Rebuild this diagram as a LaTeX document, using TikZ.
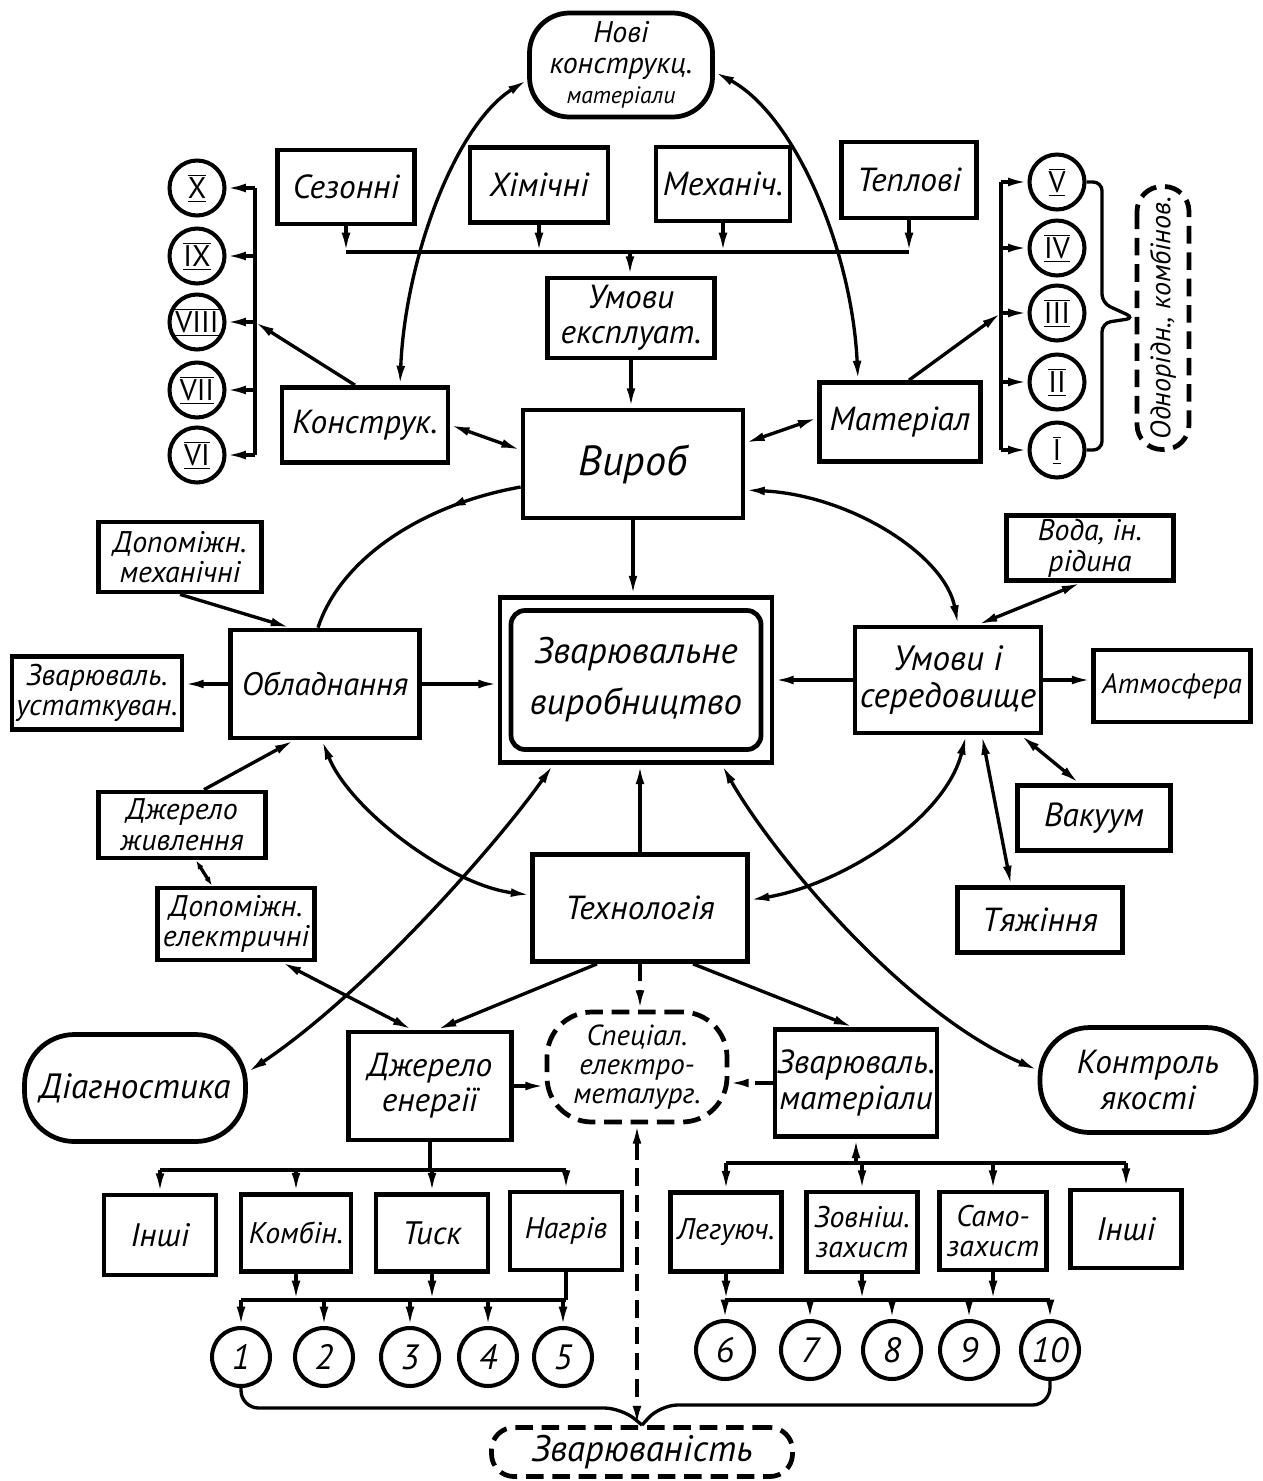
\documentclass[tikz,border=0pt]{standalone}
\usepackage{fontspec}
\setmainfont{PT Sans}
\usetikzlibrary{arrows.meta}
\usetikzlibrary{decorations.markings}
\tikzset{blk/.style = {draw, line width = 2.7pt, inner sep = 0, align = center, font = \itshape\fontsize{19}{20}\selectfont}}
\tikzset{sml/.style = {font = \itshape\fontsize{17}{17.5}\selectfont}}
\tikzset{mdl/.style = {font = \itshape\fontsize{18.5}{19.5}\selectfont}}
\tikzset{rim/.style = {draw, circle, line width = 2.3pt, inner sep = 0, minimum size = 1.1cm, font = \fontsize{17}{17}\selectfont}}
\tikzset{num/.style = {rim, minimum size = 1.16cm, font = \itshape\fontsize{20}{20}\selectfont}}
\tikzset{dsh/.style = {dash pattern = on 10pt off 5pt}}
\tikzset{wh/.style 2 args = {minimum width = #1*0.02cm, minimum height = #2*0.02cm}}
\tikzset{wire/.style = {line width = 1.9pt}}
\tikzset{tipat/.style = {postaction = {decorate}, decoration = {markings, mark = at position #1 with {\arrow{>}}}}}
\newcommand{\romnum}[1]{$\overline{\underline{\mbox{#1}}}$}

\begin{document}
\begin{tikzpicture}[x = 0.02cm, y = -0.02cm, > = {Latex[length = 11pt, width = 5pt]}]
    \useasboundingbox (0, 0) rectangle (1263, 1481);

    \node [blk, wh = {183}{104}, rounded corners = 0.8cm, font = \itshape\fontsize{17}{17.5}\selectfont] (novi) at (621, 65) {Нові\\конструкц.\\{\fontsize{13.5}{13.5}\selectfont матеріали}};
    \node [blk, wh = {137}{74}] (sez) at (346, 187) {Сезонні};
    \node [blk, wh = {138}{75}] (khim) at (539, 185) {Хімічні};
    \node [blk, wh = {134}{74}] (mekh) at (723, 184) {Механіч.};
    \node [blk, wh = {135}{76}] (tepl) at (909, 180) {Теплові};
    \node [blk, wh = {167}{80}] (umexp) at (631, 318) {Умови\\експлуат.};
    \node [blk, wh = {220}{108}, font = \itshape\fontsize{24}{26}\selectfont] (vyrib) at (633, 464) {Вироб};
    \node [blk, wh = {166}{75}] (kons) at (365, 425) {Конструк.};
    \node [blk, wh = {161}{79}] (mat) at (900, 422) {Матеріал};

    \foreach \n/\y in {X/188, IX/256, VIII/322, VII/390, VI/455}
      \node [rim] (r\n) at (197, \y) {\romnum{\n}};
    \foreach \n/\y in {V/182, IV/248, III/313, II/382, I/450}
      \node [rim] (r\n) at (1057, \y) {\romnum{\n}};
    \node [blk, dsh, rotate = 90, wh = {263}{52}, rounded corners = 0.5cm, font = \itshape\fontsize{16}{16}\selectfont] (odnor) at (1163, 318) {Однорідн., комбінов.};

    \node [blk, wh = {272}{165}] (zvp) at (636, 680) {};
    \node [blk, wh = {250}{139}, rounded corners = 8pt, font = \itshape\fontsize{21}{29}\selectfont] (zvpin) at (zvp) {Зварювальне\\виробництво};

    \node [blk, mdl, wh = {189}{108}] (obl) at (325, 684) {Обладнання};
    \node [blk, sml, wh = {163}{70}] (dopmekh) at (180, 557) {Допоміжн.\\механічні};
    \node [blk, sml, wh = {170}{73}] (zvust) at (97, 693) {Зварюваль.\\устаткуван.};
    \node [blk, sml, wh = {167}{66}] (dzhzh) at (182, 825) {Джерело\\живлення};
    \node [blk, sml, wh = {157}{72}] (dopel) at (236, 924) {Допоміжн.\\електричні};

    \node [blk, wh = {186}{106}, font = \itshape\fontsize{20}{21}\selectfont] (umov) at (948, 680) {Умови і\\середовище};
    \node [blk, sml, wh = {167}{65}] (voda) at (1090, 548) {Вода, ін.\\рідина};
    \node [blk, wh = {157}{72}, font = \itshape\fontsize{16}{16}\selectfont] (atm) at (1172, 686) {Атмосфера};
    \node [blk, wh = {153}{65}] (vak) at (1094, 818) {Вакуум};
    \node [blk, wh = {165}{65}] (tyazh) at (1040, 920) {Тяжіння};

    \node [blk, wh = {215}{107}] (tekh) at (640, 908) {Технологія};
    \node [blk, wh = {221}{107}, rounded corners = 1cm, font = \itshape\fontsize{20}{20}\selectfont] (diag) at (135, 1088) {Діагностика};
    \node [blk, wh = {163}{108}] (dzhen) at (430, 1086) {Джерело\\енергії};
    \node [blk, dsh, wh = {180}{110}, rounded corners = 0.9cm, font = \itshape\fontsize{16.5}{16.5}\selectfont] (spec) at (637, 1067) {Спеціал.\\електро-\\металург.};
    \node [blk, wh = {162}{107}] (zvmat) at (856, 1083) {Зварюваль.\\матеріали};
    \node [blk, wh = {216}{105}, rounded corners = 1cm] (kontr) at (1148, 1080) {Контроль\\якості};

    \node [blk, mdl, wh = {112}{80}] (inshia) at (160, 1235) {Інші};
    \node [blk, sml, wh = {110}{77}] (komb) at (296, 1233) {Комбін.};
    \node [blk, mdl, wh = {112}{77}] (tysk) at (432, 1233) {Тиск};
    \node [blk, sml, wh = {112}{78}] (nagr) at (566, 1231) {Нагрів};
    \node [blk, sml, wh = {111}{79}] (leg) at (726, 1232) {Легуюч.};
    \node [blk, sml, wh = {111}{80}] (zovn) at (862, 1232) {Зовніш.\\захист};
    \node [blk, sml, wh = {107}{78}] (samo) at (993, 1231) {Само-\\захист};
    \node [blk, mdl, wh = {111}{78}] (inshib) at (1126, 1229) {Інші};

    \foreach \i/\x in {1/241, 2/324, 3/410, 4/488, 5/563}
      \node [num] (c\i) at (\x, 1357) {\i};
    \foreach \i/\x in {6/725, 7/810, 8/892, 9/969, 10/1050}
      \node [num] (c\i) at (\x, 1350) {\i};

    \node [blk, dsh, wh = {301}{49}, rounded corners = 0.45cm, font = \itshape\fontsize{21}{21}\selectfont] (zvar) at (642, 1452) {Зварюваність};

    \coordinate (tbus) at (630, 252);
    \coordinate (lbus) at (255, 322);
    \coordinate (rbus) at (1001, 313);
    \coordinate (ebus) at (433, 1170);
    \coordinate (nbus) at (400, 1300);
    \coordinate (mbus) at (860, 1163);
    \coordinate (wbus) at (900, 1300);

    \foreach \b in {sez, khim, mekh, tepl}
      \draw [wire, ->] (\b.south) -- (\b.south |- tbus);
    \draw [wire] (sez.south |- tbus) -- (tepl.south |- tbus);
    \draw [wire, ->] (tbus) -- (tbus |- umexp.north);
    \draw [wire, ->] (umexp.south) -- (umexp.south |- vyrib.north);
    \draw [wire, ->] (vyrib.south) -- (vyrib.south |- zvp.north);

    \draw [wire] (rX.east -| lbus) -- (rVI.east -| lbus);
    \foreach \n in {X, IX, VIII, VII, VI}
      \draw [wire, ->] (r\n.east -| lbus) -- (r\n.east);
    \draw [wire, ->] (kons.north -| 355, 0) -- (lbus);
    \draw [wire] (rV.west -| rbus) -- (rI.west -| rbus);
    \foreach \n in {V, IV, III, II, I}
      \draw [wire, ->] (r\n.west -| rbus) -- (r\n.west);
    \draw [wire, ->] (mat.north -| 909, 0) -- (rbus);
    \draw [wire, rounded corners = 5pt] (rV.east) -- (1102, 182) -- (1102, 303) -- (odnor.north) -- (1102, 323) -- (1102, 450) -- (rI.east);

    \draw [wire, <->] (novi.west |- 0, 80) .. controls (455, 125) and (405, 260) .. (kons.north -| 400, 0);
    \draw [wire, <->] (novi.east |- 0, 72) .. controls (795, 115) and (852, 250) .. (mat.north -| 858, 0);
    \draw [wire, <->] (kons.east) -- (vyrib.west |- 0, 450);
    \draw [wire, <->] (vyrib.east |- 0, 443) -- (mat.west |- 0, 418);

    \draw [wire, tipat = 0.3] (vyrib.west |- 0, 487) .. controls (420, 505) and (340, 560) .. (obl.north -| 318, 0);
    \draw [wire, <->] (umov.north -| 958, 0) .. controls (945, 555) and (850, 495) .. (vyrib.east |- 0, 490);
    \draw [wire, <->] (obl.south -| 322, 0) .. controls (350, 810) and (450, 885) .. (tekh.west |- 0, 895);
    \draw [wire, <->] (umov.south -| 966, 0) .. controls (945, 820) and (840, 885) .. (tekh.east |- 0, 900);
    \draw [wire, <->] (zvp.south -| 553, 0) .. controls (500, 840) and (370, 990) .. (diag.east |- 0, 1072);
    \draw [wire, <->] (zvp.south -| 722, 0) .. controls (770, 850) and (900, 1010) .. (kontr.west |- 0, 1070);

    \draw [wire, ->] (dopmekh.south) -- (obl.north -| 290, 0);
    \draw [wire, ->] (obl.west) -- (obl.west -| zvust.east);
    \draw [wire, ->] (obl.east) -- (obl.east -| zvp.west);
    \draw [wire, ->] (dzhzh.north -| 204, 0) -- (obl.south -| 294, 0);
    \draw [wire, {Latex[length = 5pt, width = 3.5pt]}-{Latex[length = 5pt, width = 3.5pt]}] (dzhzh.south -| 196, 0) -- (dopel.north -| 212, 0);
    \draw [wire, <->] (dopel.south -| 282, 0) -- (dzhen.north -| 412, 0);

    \draw [wire, ->] (umov.west) -- (umov.west -| zvp.east);
    \draw [wire, ->] (umov.east) -- (umov.east -| atm.west);
    \draw [wire, <->] (umov.north -| 978, 0) -- (voda.south -| 1081, 0);
    \draw [wire, <->] (umov.south -| 1021, 0) -- (vak.north -| 1079, 0);
    \draw [wire, <->] (umov.south -| 982, 0) -- (tyazh.north -| 1011, 0);

    \draw [wire, ->] (tekh.north) -- (tekh.north |- zvp.south);
    \draw [wire, ->] (tekh.south -| 597, 0) -- (dzhen.north -| 437, 0);
    \draw [wire, ->] (tekh.south -| 693, 0) -- (zvmat.north -| 853, 0);
    \draw [wire, dsh, ->] (tekh.south) -- (tekh.south |- spec.north);
    \draw [wire, dsh, ->] (dzhen.east) -- (dzhen.east -| spec.west);
    \draw [wire, dsh, ->] (zvmat.west) -- (zvmat.west -| spec.east);
    \draw [wire, dsh, <->] (spec.south) -- (spec.south |- zvar.north);

    \draw [wire] (dzhen.south) -- (dzhen.south |- ebus);
    \draw [wire] (inshia.north |- ebus) -- (nagr.north |- ebus);
    \foreach \b in {inshia, komb, tysk, nagr}
      \draw [wire, ->] (\b.north |- ebus) -- (\b.north);
    \draw [wire] (c1.north |- nbus) -- (nagr.south |- nbus);
    \draw [wire, ->] (komb.south) -- (komb.south |- nbus);
    \draw [wire, ->] (tysk.south) -- (tysk.south |- nbus);
    \draw [wire] (nagr.south) -- (nagr.south |- nbus);
    \foreach \i in {1, ..., 5}
      \draw [wire, ->] (c\i.north |- nbus) -- (c\i.north);

    \draw [wire, <-] (zvmat.south) -- (zvmat.south |- mbus);
    \draw [wire] (leg.north |- mbus) -- (inshib.north |- mbus);
    \foreach \b in {leg, zovn, samo, inshib}
      \draw [wire, ->] (\b.north |- mbus) -- (\b.north);
    \draw [wire] (c6.north |- wbus) -- (c10.north |- wbus);
    \foreach \b in {leg, zovn, samo}
      \draw [wire, ->] (\b.south) -- (\b.south |- wbus);
    \foreach \i in {6, ..., 10}
      \draw [wire, ->] (c\i.north |- wbus) -- (c\i.north);

    \draw [wire, rounded corners = 10pt] (c1.south) |- (622, 1408) -- (zvar.north);
    \draw [wire, rounded corners = 10pt] (c10.south) |- (660, 1405) -- (zvar.north);
  \end{tikzpicture}
\end{document}
